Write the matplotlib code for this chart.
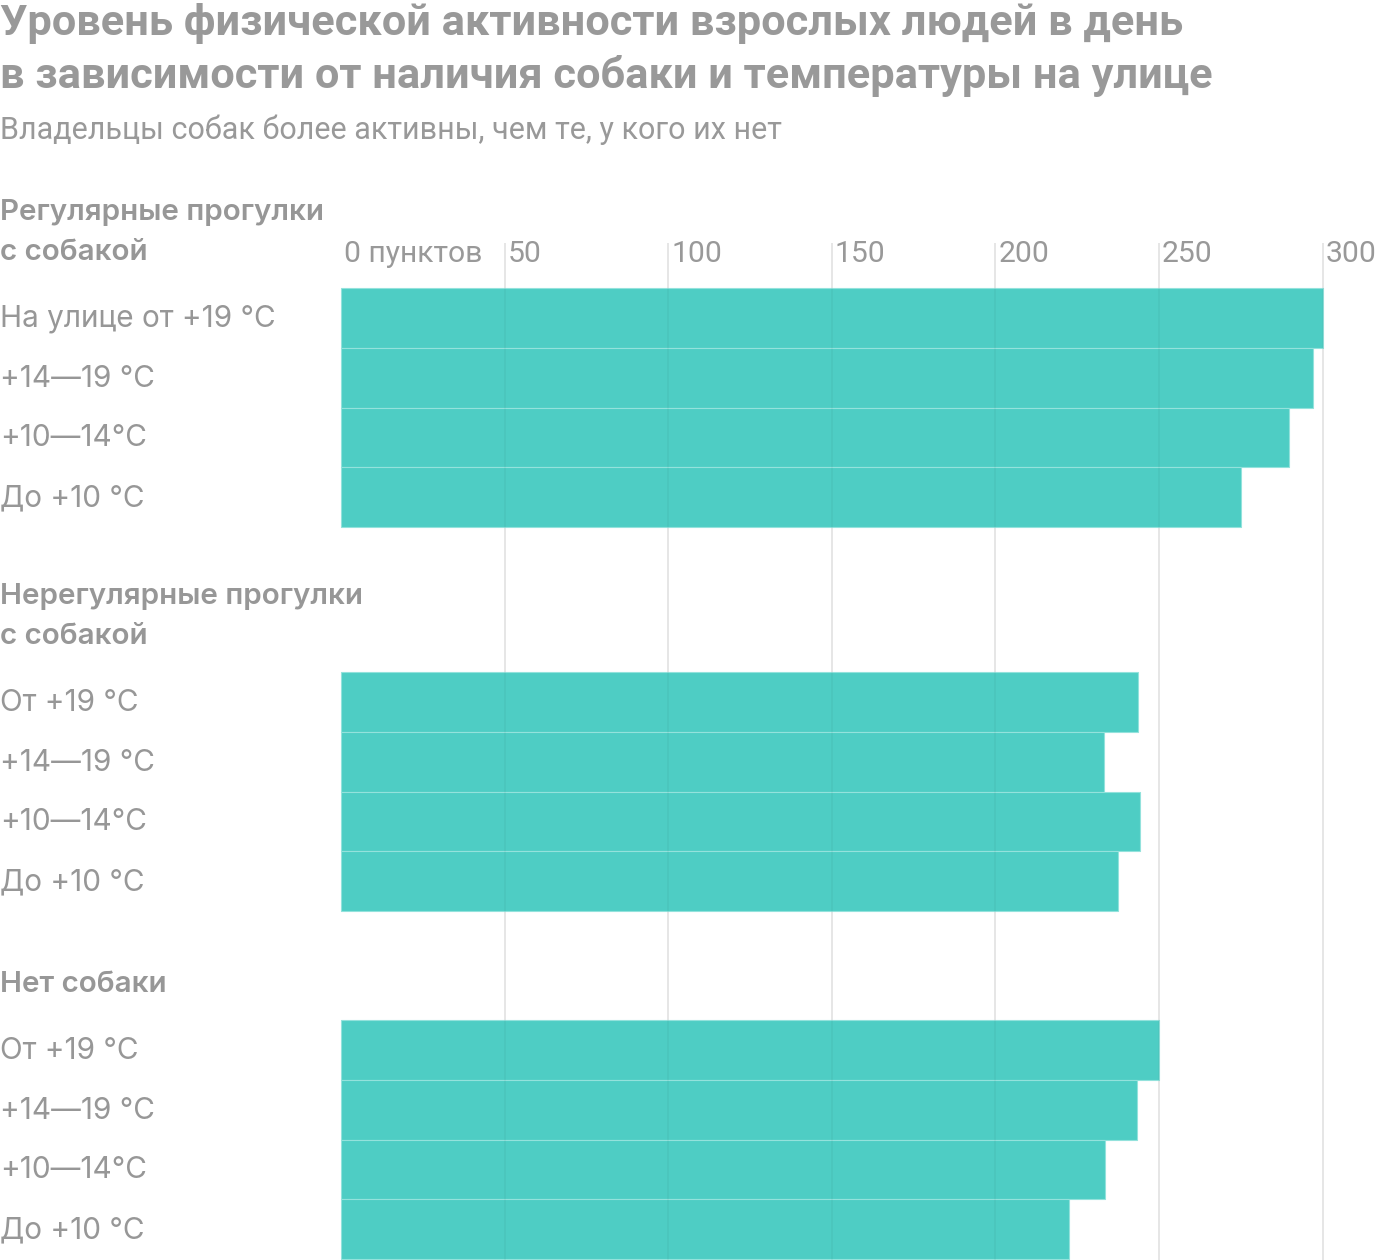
import matplotlib
matplotlib.use("Agg")
import matplotlib.pyplot as plt

# ---- data ----
title_lines = ["Уровень физической активности взрослых людей в день",
               "в зависимости от наличия собаки и температуры на улице"]
subtitle = "Владельцы собак более активны, чем те, у кого их нет"
group_titles = [["Регулярные прогулки", "с собакой"],
                ["Нерегулярные прогулки", "с собакой"],
                ["Нет собаки"]]
labels_regular = ["На улице от +19 °C", "+14—19 °C", "+10—14°C", "До +10 °C"]
labels_irregular = ["От +19 °C", "+14—19 °C", "+10—14°C", "До +10 °C"]
labels_nodog = ["От +19 °C", "+14—19 °C", "+10—14°C", "До +10 °C"]
values_regular = [300, 297.2, 289.8, 275.1]
values_irregular = [243.5, 233.1, 244.1, 237.4]
values_nodog = [250.0, 243.3, 233.5, 222.5]
ticks = [0, 50, 100, 150, 200, 250, 300]
tick_labels = ["0 пунктов", "50", "100", "150", "200", "250", "300"]

# ---- style / layout ----
W, H = 1400, 1260
X0_PX = 341.0          # pixel of value 0
PX_PER_UNIT = 3.272
BAR_COLOR = "#4ecdc4"
EDGE_COLOR = "#93e2dc"
TEXT = "#999999"
LABEL = "#979797"
group_tops = [288, 672, 1020]
PITCH = 59.8

fig = plt.figure(figsize=(W / 100, H / 100), dpi=100)
ax = fig.add_axes([0, 0, 1, 1])
ax.set_xlim(-X0_PX / PX_PER_UNIT, (W - X0_PX) / PX_PER_UNIT)
ax.set_ylim(H, 0)
ax.axis("off")

def fy(py):
    return 1 - py / H

# title and subtitle
fig.text(0, fy(23), title_lines[0], family="Roboto", weight="bold",
         fontsize=31.2, color=TEXT, va="center", ha="left")
fig.text(0, fy(76), title_lines[1], family="Roboto", weight="bold",
         fontsize=31.2, color=TEXT, va="center", ha="left")
fig.text(0, fy(130), subtitle, family="Roboto", weight="normal",
         fontsize=22, color=TEXT, va="center", ha="left")

all_labels = [labels_regular, labels_irregular, labels_nodog]
all_values = [values_regular, values_irregular, values_nodog]
XL = -X0_PX / PX_PER_UNIT

for top, gt, labs, vals in zip(group_tops, group_titles, all_labels, all_values):
    centers = [top + PITCH * (i + 0.5) for i in range(len(vals))]
    ax.barh(centers, vals, height=PITCH, left=0, color=BAR_COLOR,
            edgecolor=EDGE_COLOR, linewidth=0.8, zorder=2)
    for c, lab in zip(centers, labs):
        ax.text(XL, c + 1, lab, family="Inter", fontsize=21.4,
                color=LABEL, va="center", ha="left")
    n = len(gt)
    for j, line in enumerate(gt):
        yc = top - 35 - 40 * (n - 1 - j)
        ax.text(XL, yc, line, family="Inter",
                weight="semibold", fontsize=21.3, color=LABEL,
                va="center", ha="left")

# gridlines (light grey behind, faint trace over the bars)
for t in ticks[1:]:
    ax.plot([t, t], [243, H], color="#eeeeee", linewidth=1.4,
            zorder=1, solid_capstyle="butt")
    ax.plot([t, t], [243, H], color="black", alpha=0.04, linewidth=1.2,
            zorder=3, solid_capstyle="butt")

# tick labels
for t, lab in zip(ticks, tick_labels):
    ax.text(t + 3 / PX_PER_UNIT, 254, lab, family="Roboto", weight="normal",
            fontsize=21.7, color=TEXT, va="center", ha="left")

fig.savefig("out.png", dpi=100, facecolor="white")
